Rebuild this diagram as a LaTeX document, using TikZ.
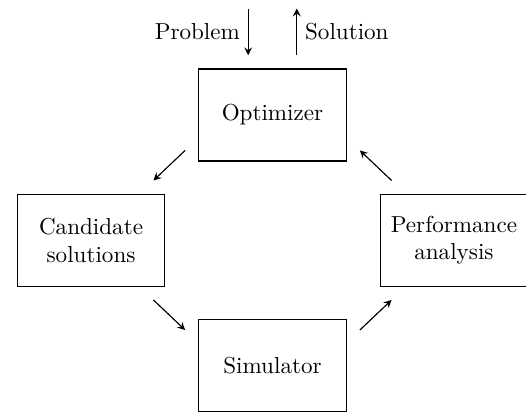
\documentclass[tikz,border=0pt]{standalone}
\begin{document}
\begin{tikzpicture}[>=stealth, line width=0.5pt, block/.style={draw, rectangle, minimum width=2.24cm, minimum height=1.4cm, align=center, text=black}]
    \useasboundingbox (-4.145,-2.612) rectangle (3.856,3.654);
    \node[block] (opt) at (0, 1.905) {Optimizer};
    \node[block] (cand) at (-2.76, 0) {Candidate\\solutions};
    \node[block] (perf) at (2.76, 0) {Performance\\analysis};
    \node[block] (sim) at (0, -1.905) {Simulator};

    \draw [->] ([xshift=-0.37cm,yshift=0.91cm]opt.north) -- node[anchor=east] {Problem} ([xshift=-0.37cm,yshift=0.2cm]opt.north);
    \draw [<-] ([xshift=0.37cm,yshift=0.91cm]opt.north) -- node[anchor=west] {Solution} ([xshift=0.37cm,yshift=0.2cm]opt.north);

    \draw [->] ([xshift=-0.2cm,yshift=0.17cm]opt.south west) -- ([xshift=-0.18cm,yshift=0.2cm]cand.north east);
    \draw [->] ([xshift=-0.18cm,yshift=-0.2cm]cand.south east) -- ([xshift=-0.2cm,yshift=-0.17cm]sim.north west);
    \draw [->] ([xshift=0.2cm,yshift=-0.17cm]sim.north east) -- ([xshift=0.18cm,yshift=-0.2cm]perf.south west);
    \draw [->] ([xshift=0.18cm,yshift=0.2cm]perf.north west) -- ([xshift=0.2cm,yshift=0.17cm]opt.south east);
\end{tikzpicture}
\end{document}
